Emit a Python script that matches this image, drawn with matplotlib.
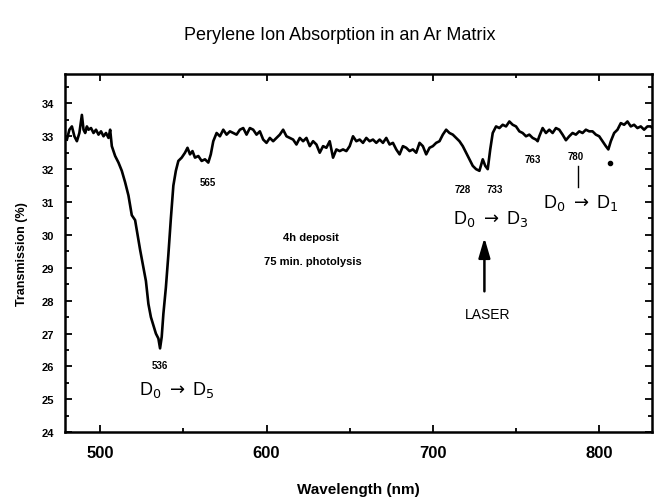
import matplotlib
matplotlib.use('Agg')
import matplotlib.pyplot as plt
from matplotlib.ticker import MultipleLocator

plt.rcParams['font.family'] = ['Liberation Sans', 'DejaVu Sans']

# spectrum
wavelength = [480, 481.5, 483, 484.5, 486, 487.5, 489, 490, 491, 492, 493, 494.5, 496, 497.5,
              499, 500.5, 502, 503.5, 505, 506, 507, 508, 509, 511, 513, 515, 517, 519, 521,
              522.5, 524, 526, 527.5, 529, 530.5, 532, 533.5, 535, 536, 537, 538, 539.5, 541,
              542.5, 544, 545.5, 547, 549, 551, 552.5, 554, 555.5, 557, 559, 561, 563, 565,
              566.5, 568, 570, 572, 574, 576, 578, 580, 582, 584, 586, 588, 590, 592, 594, 596,
              598, 600, 602, 604, 606, 608, 610, 612, 614, 616, 618, 620, 622, 624, 626, 628,
              630, 632, 634, 636, 638, 640, 642, 644, 646, 648, 650, 652, 654, 656, 658, 660,
              662, 664, 666, 668, 670, 672, 674, 676, 678, 680, 682, 684, 686, 688, 690, 692,
              694, 696, 698, 700, 702, 704, 706, 708, 710, 712, 714, 716, 718, 720, 722, 724,
              726, 728, 730, 731.5, 733, 734.5, 736, 738, 740, 742, 744, 746, 748, 750, 752,
              754, 756, 758, 760, 762, 763, 764, 766, 768, 770, 772, 774, 776, 778, 780, 782,
              784, 786, 788, 790, 792, 794, 796, 798, 800, 802, 804, 805.5, 807, 809, 811, 813,
              815, 817, 819, 821, 823, 825, 827, 829, 831, 832]
transmission = [32.9, 33.2, 33.3, 33.0, 32.85, 33.1, 33.65, 33.2, 33.1, 33.3, 33.2, 33.25, 33.1, 33.2,
                33.05, 33.15, 33.0, 33.1, 32.95, 33.2, 32.7, 32.55, 32.4, 32.2, 31.95, 31.6, 31.2, 30.6, 30.45,
                30.0, 29.55, 29.0, 28.6, 27.9, 27.5, 27.25, 27.0, 26.85, 26.55, 26.9, 27.6, 28.4, 29.4,
                30.5, 31.5, 31.95, 32.25, 32.35, 32.5, 32.65, 32.45, 32.55, 32.35, 32.4, 32.25, 32.3, 32.2,
                32.45, 32.85, 33.1, 33.0, 33.2, 33.05, 33.15, 33.1, 33.05, 33.2, 33.25, 33.05, 33.25, 33.2, 33.05, 33.15,
                32.9, 32.8, 32.95, 32.85, 32.95, 33.05, 33.2, 33.0, 32.95, 32.9, 32.75, 32.95, 32.85, 32.95, 32.7, 32.85,
                32.75, 32.5, 32.7, 32.65, 32.85, 32.35, 32.6, 32.55, 32.6, 32.55, 32.7, 33.0, 32.85, 32.9, 32.8, 32.95,
                32.85, 32.9, 32.8, 32.9, 32.8, 32.95, 32.75, 32.8, 32.6, 32.45, 32.7, 32.65, 32.55, 32.6, 32.5, 32.8,
                32.7, 32.45, 32.65, 32.7, 32.8, 32.85, 33.05, 33.2, 33.1, 33.05, 32.95, 32.85, 32.7, 32.5, 32.3, 32.1,
                32.0, 31.95, 32.3, 32.1, 32.0, 32.6, 33.1, 33.3, 33.25, 33.35, 33.3, 33.45, 33.35, 33.3, 33.15,
                33.1, 33.0, 33.05, 32.95, 32.9, 32.85, 33.0, 33.25, 33.1, 33.2, 33.1, 33.25, 33.2, 33.05, 32.88, 33.0,
                33.1, 33.05, 33.15, 33.1, 33.2, 33.15, 33.15, 33.05, 33.0, 32.85, 32.7, 32.6, 32.85, 33.1, 33.2, 33.4,
                33.35, 33.45, 33.3, 33.35, 33.25, 33.3, 33.2, 33.3, 33.3, 33.25]

# peak labels (nm) and where they sit
peak_labels = ['536', '565', '728', '733', '763', '780']
label_x = [536, 565, 718, 737, 760, 786]
label_y = [26.05, 31.6, 31.4, 31.4, 32.3, 32.4]

fig = plt.figure(figsize=(6.59, 5.02), dpi=100)
ax = fig.add_axes([0.099, 0.137, 0.891, 0.714])
ax.plot(wavelength, transmission, color='black', lw=1.9)

ax.set_xlim(479, 832)
ax.set_ylim(24, 34.9)
ax.xaxis.set_major_locator(MultipleLocator(100))
ax.xaxis.set_minor_locator(MultipleLocator(50))
ax.yaxis.set_major_locator(MultipleLocator(1))
ax.yaxis.set_minor_locator(MultipleLocator(0.5))
ax.tick_params(which='both', direction='in', top=True, right=True, width=1.3)
ax.tick_params(which='major', length=5)
ax.tick_params(which='minor', length=3)
ax.tick_params(axis='x', labelsize=12, pad=9)
ax.tick_params(axis='y', labelsize=8, pad=8)
for lab in ax.get_xticklabels() + ax.get_yticklabels():
    lab.set_fontweight('bold')
for sp in ax.spines.values():
    sp.set_linewidth(1.8)

fig.text(0.515, 0.93, 'Perylene Ion Absorption in an Ar Matrix', ha='center', va='center', fontsize=13)
ax.set_xlabel('Wavelength (nm)', fontsize=11, fontweight='bold', labelpad=16)
ax.set_ylabel('Transmission (%)', fontsize=9, fontweight='bold', labelpad=10)

for txt, lx, ly in zip(peak_labels, label_x, label_y):
    ax.text(lx, ly, txt, ha='center', va='center', fontsize=7, fontweight='bold')

ax.text(546, 25.3, r'D$_0$ $\rightarrow$ D$_5$', ha='center', va='center', fontsize=13)
ax.text(735, 30.5, r'D$_0$ $\rightarrow$ D$_3$', ha='center', va='center', fontsize=13)
ax.text(789, 31.0, r'D$_0$ $\rightarrow$ D$_1$', ha='center', va='center', fontsize=13)
ax.plot([787.5, 787.5], [31.45, 32.1], color='black', lw=1)
ax.plot([806.5], [32.2], marker='o', color='black', ms=3)

ax.text(627, 29.95, '4h deposit', ha='center', va='center', fontsize=8, fontweight='bold')
ax.text(628, 29.2, '75 min. photolysis', ha='center', va='center', fontsize=8, fontweight='bold')

ax.annotate('', xy=(731, 30.0), xytext=(731, 28.2),
            arrowprops=dict(arrowstyle='-|>,head_length=1.2,head_width=0.35', color='black', lw=1.8))
ax.text(733, 27.6, 'LASER', ha='center', va='center', fontsize=10)

fig.savefig('out.png', dpi=100)
